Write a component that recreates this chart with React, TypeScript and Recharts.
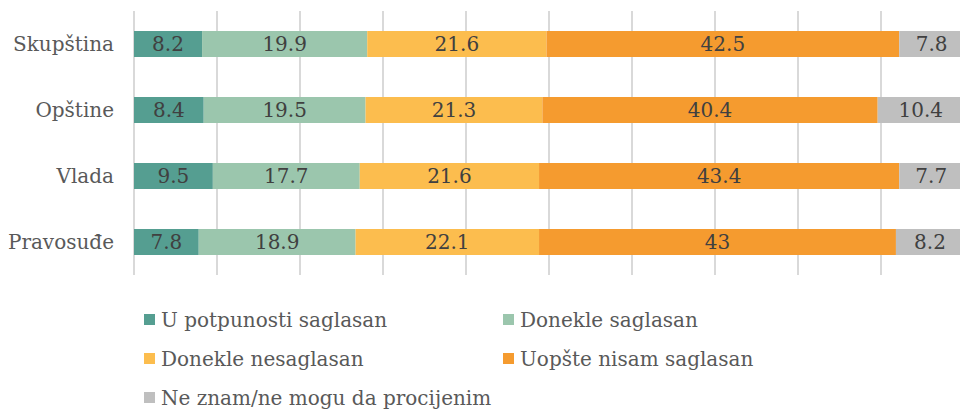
import React from 'react';
import { BarChart, Bar, XAxis, YAxis, CartesianGrid, LabelList, Legend } from 'recharts';

const categories = ['Skupština', 'Opštine', 'Vlada', 'Pravosuđe'];
const seriesNames = [
  'U potpunosti saglasan',
  'Donekle saglasan',
  'Donekle nesaglasan',
  'Uopšte nisam saglasan',
  'Ne znam/ne mogu da procijenim',
];
const potpunoSaglasan = [8.2, 8.4, 9.5, 7.8];
const donekleSaglasan = [19.9, 19.5, 17.7, 18.9];
const donekleNesaglasan = [21.6, 21.3, 21.6, 22.1];
const uopsteNisam = [42.5, 40.4, 43.4, 43];
const neZnam = [7.8, 10.4, 7.7, 8.2];
const xTicks = [0, 10, 20, 30, 40, 50, 60, 70, 80, 90, 100];

const colors = ['#559E91', '#9BC6AD', '#FCBD4E', '#F59B2F', '#BFBFBF'];
const keys = ['s0', 's1', 's2', 's3', 's4'];
const seriesValues = [potpunoSaglasan, donekleSaglasan, donekleNesaglasan, uopsteNisam, neZnam];

const data = categories.map((c, i) => {
  const row: any = { name: c };
  keys.forEach((k, j) => {
    row[k] = seriesValues[j][i];
  });
  return row;
});

const FONT = '"DejaVu Serif", serif';

const LegendContent = () => {
  const rows = [
    [0, 1],
    [2, 3],
    [4],
  ];
  return (
    <div style={{ fontFamily: FONT, fontSize: 20, color: '#595959' }}>
      {rows.map((r, ri) => (
        <div key={ri} style={{ display: 'flex', height: 39, alignItems: 'center' }}>
          {r.map((idx) => (
            <div key={idx} style={{ display: 'flex', alignItems: 'center', width: 359 }}>
              <div style={{ width: 11, height: 11, background: colors[idx], marginRight: 6 }} />
              <span style={{ whiteSpace: 'nowrap' }}>{seriesNames[idx]}</span>
            </div>
          ))}
        </div>
      ))}
    </div>
  );
};

export default function App() {
  return (
    <div style={{ position: 'fixed', left: 0, top: 0, width: 960, height: 412, overflow: 'hidden', background: '#fff' }}>
      <BarChart
        width={980}
        height={412}
        data={data}
        layout="vertical"
        margin={{ top: 11, right: 16, left: 0, bottom: 137 }}
        barSize={26}
      >
        <CartesianGrid horizontal={false} vertical={true} stroke="#D9D9D9" strokeWidth={2} />
        <XAxis type="number" domain={[0, 100]} ticks={xTicks} hide />
        <YAxis
          type="category"
          dataKey="name"
          width={134}
          axisLine={false}
          tickLine={false}
          tickMargin={14}
          tick={{ fill: '#595959', fontSize: 20, fontFamily: FONT }}
        />
        <Legend
          layout="vertical"
          align="center"
          verticalAlign="middle"
          content={<LegendContent />}
          wrapperStyle={{ position: 'absolute', left: 144, top: 300, width: 800 }}
        />
        {keys.map((k, j) => (
          <Bar key={k} dataKey={k} stackId="a" fill={colors[j]} isAnimationActive={false} name={seriesNames[j]}>
            <LabelList dataKey={k} position="center" fill="#404040" fontSize={20} fontFamily={FONT} />
          </Bar>
        ))}
      </BarChart>
    </div>
  );
}
